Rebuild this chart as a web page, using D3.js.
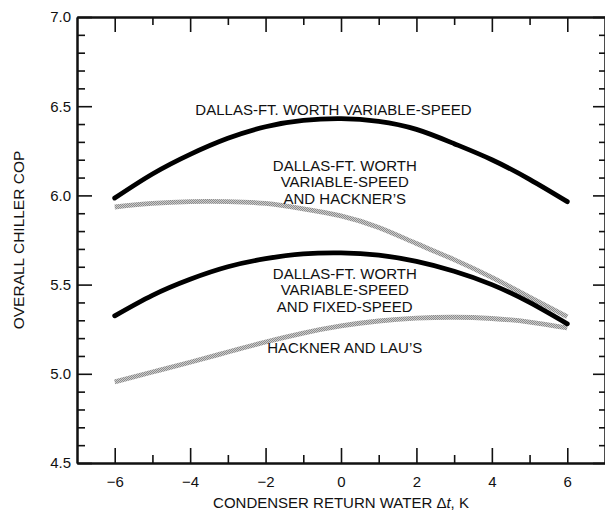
<!DOCTYPE html>
<html>
<head>
<meta charset="utf-8">
<script src="https://cdn.jsdelivr.net/npm/d3@7"></script>
<style>
body { margin: 0; background: #fff; }
text { font-family: "Liberation Sans", Arial, sans-serif; fill: #111; }
</style>
</head>
<body>
<div id="copchart"></div>
<script>
// condenser return water delta t, K
var deltaT = [-6, -5, -4, -3, -2, -1, 0, 1, 2, 3, 4, 5, 6];
// overall chiller COP
var dfwVariable = [5.985, 6.12, 6.23, 6.32, 6.385, 6.42, 6.43, 6.415, 6.37, 6.29, 6.2, 6.09, 5.965];
var dfwHackner = [5.935, 5.955, 5.965, 5.965, 5.955, 5.925, 5.885, 5.82, 5.73, 5.64, 5.54, 5.43, 5.32];
var dfwFixed = [5.325, 5.44, 5.53, 5.6, 5.645, 5.672, 5.678, 5.665, 5.63, 5.575, 5.5, 5.4, 5.28];
var hacknerLau = [4.955, 5.01, 5.065, 5.122, 5.178, 5.228, 5.268, 5.296, 5.312, 5.317, 5.31, 5.29, 5.257];

var xMajor = [-6, -4, -2, 0, 2, 4, 6];
var xMinor = [-5, -3, -1, 1, 3, 5];
var yMajor = [4.5, 5.0, 5.5, 6.0, 6.5, 7.0];
var yMinor = [4.6, 4.7, 4.8, 4.9, 5.1, 5.2, 5.3, 5.4, 5.6, 5.7, 5.8, 5.9, 6.1, 6.2, 6.3, 6.4, 6.6, 6.7, 6.8, 6.9];

var labelTop = ["DALLAS-FT. WORTH VARIABLE-SPEED"];
var labelHackner = ["DALLAS-FT. WORTH", "VARIABLE-SPEED", "AND HACKNER\u2019S"];
var labelFixed = ["DALLAS-FT. WORTH", "VARIABLE-SPEED", "AND FIXED-SPEED"];
var labelLau = ["HACKNER AND LAU\u2019S"];

var width = 605, height = 510;
var svg = d3.select("#copchart")
	.append("svg")
	.attr("width", width)
	.attr("height", height);

var x = d3.scaleLinear()
	.domain([-7, 7])
	.range([77, 605]);
var y = d3.scaleLinear()
	.domain([4.5, 7.0])
	.range([463, 17]);

// stippled grey used by the two Hackner curves
var pat = svg.append("defs").append("pattern")
	.attr("id", "stipple")
	.attr("patternUnits", "userSpaceOnUse")
	.attr("width", 2)
	.attr("height", 2);
pat.append("rect").attr("width", 2).attr("height", 2).attr("fill", "#cccccc");
pat.append("rect").attr("width", 1).attr("height", 1).attr("fill", "#8c8c8c");
pat.append("rect").attr("x", 1).attr("y", 1).attr("width", 1).attr("height", 1).attr("fill", "#8c8c8c");

function styleAxis(g) {
	g.attr("font-size", 15)
		.attr("font-family", "Liberation Sans, Arial, sans-serif");
	g.select(".domain").attr("stroke", "#111").attr("stroke-width", 2);
	g.selectAll(".tick line").attr("stroke", "#111").attr("stroke-width", 1.6);
	g.selectAll(".tick text").attr("fill", "#111");
}

// minor ticks first
svg.append("g")
	.attr("transform", "translate(0," + y(4.5) + ")")
	.call(d3.axisBottom(x).tickValues(xMinor).tickSize(-8).tickSizeOuter(0).tickFormat(""))
	.call(styleAxis);
svg.append("g")
	.attr("transform", "translate(0," + y(7.0) + ")")
	.call(d3.axisTop(x).tickValues(xMinor).tickSize(-8).tickSizeOuter(0).tickFormat(""))
	.call(styleAxis);
svg.append("g")
	.attr("transform", "translate(" + x(-7) + ",0)")
	.call(d3.axisLeft(y).tickValues(yMinor).tickSize(-8).tickSizeOuter(0).tickFormat(""))
	.call(styleAxis);
svg.append("g")
	.attr("transform", "translate(" + x(7) + ",0)")
	.call(d3.axisRight(y).tickValues(yMinor).tickSize(-6).tickSizeOuter(0).tickFormat(""))
	.call(styleAxis);

// major ticks
svg.append("g")
	.attr("class", "xaxis")
	.attr("transform", "translate(0," + y(4.5) + ")")
	.call(d3.axisBottom(x).tickValues(xMajor).tickSize(-15).tickSizeOuter(0).tickPadding(13)
		.tickFormat(function(d) { return d < 0 ? "\u2212" + Math.abs(d) : d; }))
	.call(styleAxis);
svg.append("g")
	.attr("transform", "translate(0," + y(7.0) + ")")
	.call(d3.axisTop(x).tickValues(xMajor).tickSize(-15).tickSizeOuter(0).tickFormat(""))
	.call(styleAxis);
svg.append("g")
	.attr("class", "yaxis")
	.attr("transform", "translate(" + x(-7) + ",0)")
	.call(d3.axisLeft(y).tickValues(yMajor).tickSize(-15).tickSizeOuter(0).tickPadding(6)
		.tickFormat(d3.format(".1f")))
	.call(styleAxis);
svg.append("g")
	.attr("transform", "translate(" + x(7) + ",0)")
	.call(d3.axisRight(y).tickValues(yMajor).tickSize(-12).tickSizeOuter(0).tickFormat(""))
	.call(styleAxis);

// curves
var line = d3.line()
	.x(function(d) { return x(d[0]); })
	.y(function(d) { return y(d[1]); })
	.curve(d3.curveNatural);

var series = [
	{vals: hacknerLau, stroke: "url(#stipple)", cap: "butt"},
	{vals: dfwHackner, stroke: "url(#stipple)", cap: "butt"},
	{vals: dfwFixed, stroke: "#000", cap: "round"},
	{vals: dfwVariable, stroke: "#000", cap: "round"}
];
svg.append("g")
	.attr("class", "linegroup")
	.selectAll("path")
	.data(series)
	.enter()
	.append("path")
	.attr("d", function(s) { return line(deltaT.map(function(t, i) { return [t, s.vals[i]]; })); })
	.attr("fill", "none")
	.attr("stroke", function(s) { return s.stroke; })
	.attr("stroke-width", 4.8)
	.attr("stroke-linecap", function(s) { return s.cap; });

// curve labels
function addLabel(lines, cx, cy) {
	var t = svg.append("text")
		.attr("text-anchor", "middle")
		.attr("font-size", 15);
	lines.forEach(function(l, i) {
		t.append("tspan")
			.attr("x", x(cx))
			.attr("y", y(cy) + i * 16.3)
			.text(l);
	});
}
addLabel(labelTop, -0.2, 6.452);
addLabel(labelHackner, 0.1, 6.137);
addLabel(labelFixed, 0.1, 5.531);
addLabel(labelLau, 0.1, 5.117);

// axis titles
var xt = svg.append("text")
	.attr("x", (x(-7) + x(7)) / 2)
	.attr("y", 508)
	.attr("text-anchor", "middle")
	.attr("font-size", 15);
xt.append("tspan").text("CONDENSER RETURN WATER \u0394");
xt.append("tspan").attr("font-style", "italic").text("t");
xt.append("tspan").text(", K");

svg.append("text")
	.attr("transform", "rotate(-90)")
	.attr("x", -(y(4.5) + y(7.0)) / 2)
	.attr("y", 24)
	.attr("text-anchor", "middle")
	.attr("font-size", 15.5)
	.text("OVERALL CHILLER COP");
</script>
</body>
</html>
